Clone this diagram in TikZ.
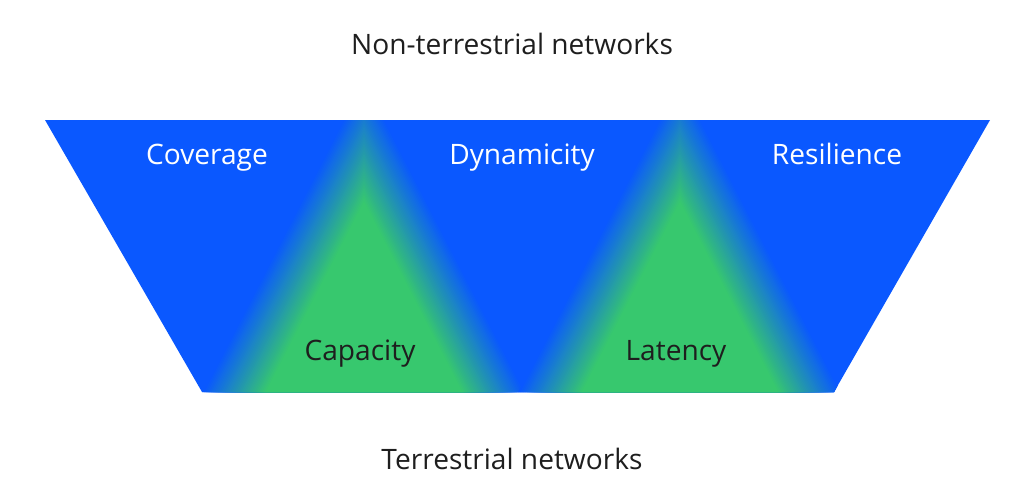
\documentclass[tikz,border=0pt]{standalone}
\usepackage{fontspec}
\setmainfont{Open Sans}
\usetikzlibrary{positioning}
\definecolor{ntnblue}{RGB}{10,88,255}
\definecolor{tngreen}{RGB}{55,200,110}
\definecolor{captext}{RGB}{30,30,30}
\tikzset{
label text/.style = {inner sep = 0pt, font = \fontsize{20}{24}\selectfont, text height = 15pt, text depth = 4pt},
outer label/.style = {label text, text = captext},
cone label/.style = {label text, text = captext},
band label/.style = {label text, text = white},
}
\begin{document}
\begin{tikzpicture}[x = 0.025cm, y = -0.025cm]
    \useasboundingbox (0, 0) rectangle (1024, 499);
    % blue band with two green cones
    \begin{scope}
        \clip (45, 120) -- (990, 120) -- (834, 392) -- (202, 392) -- cycle;
        \fill[ntnblue] (0, 100) rectangle (1024, 420);
        \foreach \xc in {364, 680} {
            \foreach \k in {0, ..., 36} {
                \pgfmathsetmacro{\d}{-28 + 56*\k/36}
                \pgfmathsetmacro{\mix}{100*\k/36}
                \pgfmathsetmacro{\ay}{140 + \d/0.458}
                \pgfmathsetmacro{\hw}{(440 - \ay)*0.516}
                \fill[tngreen!\mix!ntnblue] (\xc, \ay) -- (\xc - \hw, 440) -- (\xc + \hw, 440) -- cycle;
            }
        }
    \end{scope}
    \node[outer label] (ntn) at (512, 47) {Non-terrestrial networks};
    \node[outer label] (tn) at (512, 462) {Terrestrial networks};
    \node[band label] (coverage) at (207, 157) {Coverage};
    \node[band label] (dynamicity) at (522, 157) {Dynamicity};
    \node[band label] (resilience) at (837, 157) {Resilience};
    \node[cone label] (capacity) at (360, 353) {Capacity};
    \node[cone label] (latency) at (676, 353) {Latency};
\end{tikzpicture}
\end{document}
